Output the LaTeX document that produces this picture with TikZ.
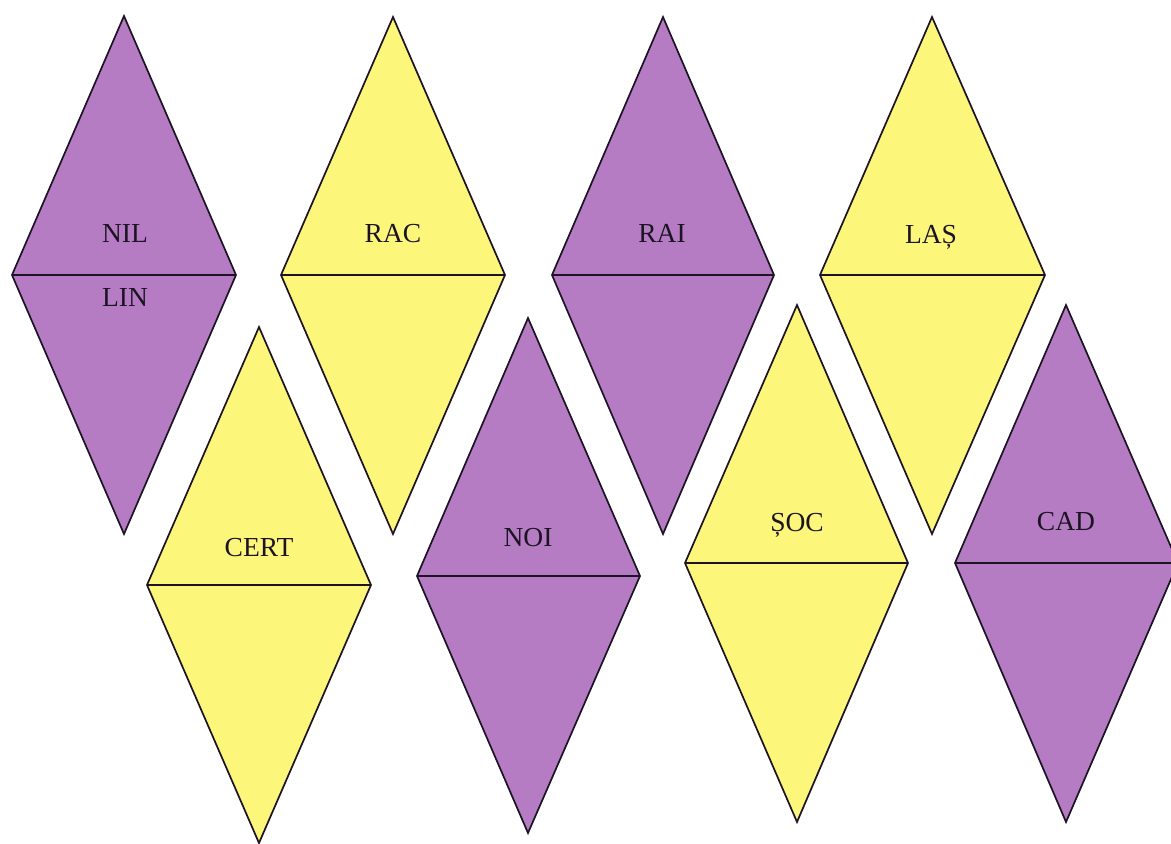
\documentclass[tikz,border=0pt]{standalone}
\usepackage{fontspec}
\setmainfont{Liberation Serif}
\definecolor{lila}{HTML}{B57CC4}
\definecolor{galben}{HTML}{FCF67A}
\definecolor{contur}{HTML}{1C1424}

\begin{document}
\begin{tikzpicture}[x=1pt, y=-1pt,
	line width=1.7pt, line join=miter,
	purpletile/.style={fill=lila, draw=contur},
	yellowtile/.style={fill=galben, draw=contur},
	word/.style={inner sep=0pt, anchor=base, text=contur, font=\fontsize{27.5}{29}\selectfont}]
	\useasboundingbox (0,0) rectangle (1171,844);

	% top row
	\filldraw[purpletile] (124,16) -- ++(112,259) -- ++(-112,259) -- ++(-112,-259) -- cycle;
	\draw[contur] (12,275) -- (236,275);
	\filldraw[yellowtile] (393,17) -- ++(112,258) -- ++(-112,259) -- ++(-112,-259) -- cycle;
	\draw[contur] (281,275) -- (505,275);
	\filldraw[purpletile] (663,17) -- ++(111,258) -- ++(-111,259) -- ++(-111,-259) -- cycle;
	\draw[contur] (552,275) -- (774,275);
	\filldraw[yellowtile] (932,17) -- ++(113,258) -- ++(-113,259) -- ++(-112,-259) -- cycle;
	\draw[contur] (820,275) -- (1045,275);

	% bottom row
	\filldraw[yellowtile] (259,327) -- ++(112,258) -- ++(-112,258) -- ++(-112,-258) -- cycle;
	\draw[contur] (147,585) -- (371,585);
	\filldraw[purpletile] (528,318) -- ++(112,258) -- ++(-112,257) -- ++(-111,-257) -- cycle;
	\draw[contur] (417,576) -- (640,576);
	\filldraw[yellowtile] (797,305) -- ++(111,258) -- ++(-111,259) -- ++(-112,-259) -- cycle;
	\draw[contur] (685,563) -- (908,563);
	\filldraw[purpletile] (1066,305) -- ++(112,258) -- ++(-112,259) -- ++(-111,-259) -- cycle;
	\draw[contur] (955,563) -- (1178,563);

	% labels
	\node[word] (nil) at (125,242) {NIL};
	\node[word] (lin) at (125,306) {LIN};
	\node[word] (rac) at (393,242) {RAC};
	\node[word] (rai) at (662,242) {RAI};
	\node[word] (las) at (931,243) {LAȘ};
	\node[word] (cert) at (259,556) {CERT};
	\node[word] (noi) at (528,546) {NOI};
	\node[word] (soc) at (797,531) {ȘOC};
	\node[word] (cad) at (1066,530) {CAD};

\end{tikzpicture}
\end{document}
